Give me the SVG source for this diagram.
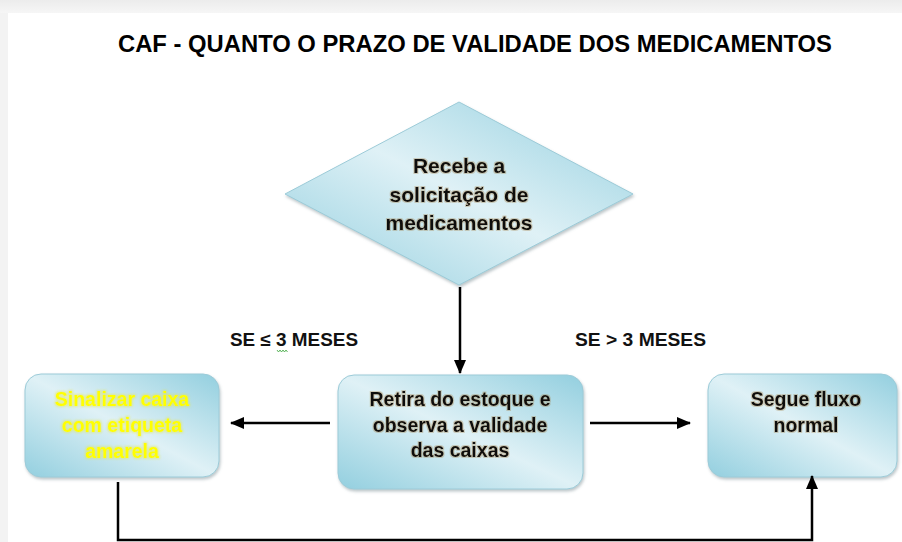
<svg xmlns="http://www.w3.org/2000/svg" width="902" height="542" viewBox="0 0 902 542">
<defs>
<linearGradient id="topbg" x1="0" y1="0" x2="0" y2="1">
<stop offset="0" stop-color="#ececec"/><stop offset="1" stop-color="#f6f6f6"/>
</linearGradient>
<linearGradient id="fill" x1="1" y1="0" x2="0" y2="1">
<stop offset="0" stop-color="#93cfdf"/>
<stop offset="0.5" stop-color="#dff1f6"/>
<stop offset="1" stop-color="#93cfdf"/>
</linearGradient>
<filter id="sh" x="-10%" y="-10%" width="125%" height="130%">
<feGaussianBlur in="SourceAlpha" stdDeviation="1.5"/>
<feOffset dx="1" dy="2" result="b"/>
<feFlood flood-color="#6a7f86" flood-opacity="0.45"/>
<feComposite in2="b" operator="in"/>
<feMerge><feMergeNode/><feMergeNode in="SourceGraphic"/></feMerge>
</filter>
<filter id="glow" x="-5%" y="-20%" width="110%" height="140%">
<feMorphology in="SourceAlpha" operator="dilate" radius="0.5" result="d"/>
<feGaussianBlur in="d" stdDeviation="0.7" result="db"/>
<feFlood flood-color="#9a7030" flood-opacity="0.3"/>
<feComposite in2="db" operator="in"/>
<feMerge><feMergeNode/><feMergeNode in="SourceGraphic"/></feMerge>
</filter>
<filter id="yglow" x="-5%" y="-20%" width="110%" height="140%">
<feMorphology in="SourceAlpha" operator="dilate" radius="0.5" result="d"/>
<feGaussianBlur in="d" stdDeviation="0.8" result="db"/>
<feFlood flood-color="#e8e840" flood-opacity="0.5"/>
<feComposite in2="db" operator="in"/>
<feMerge><feMergeNode/><feMergeNode in="SourceGraphic"/></feMerge>
</filter>
<marker id="ah" markerUnits="userSpaceOnUse" markerWidth="14" markerHeight="12" viewBox="0 0 14 12" refX="13" refY="6" orient="auto">
<path d="M0,0 L14,6 L0,12 Z" fill="#000"/>
</marker>
<style>
.box{fill:url(#fill);stroke:#9ccbd8;stroke-width:1;filter:url(#sh)}
.t{font-family:"Liberation Sans",Arial,sans-serif;font-weight:bold;text-anchor:middle;filter:url(#glow)}
.bt{font-size:19.5px;fill:#111}
.yt{font-size:19.5px;fill:#ffff00;filter:url(#yglow)}
.lab{font-family:"Liberation Sans",Arial,sans-serif;font-weight:bold;font-size:18px;fill:#111}
.c{fill:none;stroke:#000;stroke-width:2.5}
</style>
</defs>
<rect x="0" y="0" width="902" height="542" fill="#f3f3f3"/>
<rect x="0" y="0" width="902" height="13" fill="url(#topbg)"/>
<rect x="8" y="13" width="894" height="529" fill="#ffffff"/>
<text x="475" y="52" font-family="'Liberation Sans',Arial,sans-serif" font-weight="bold" font-size="23.5" fill="#000" text-anchor="middle" textLength="714" lengthAdjust="spacingAndGlyphs">CAF - QUANTO O PRAZO DE VALIDADE DOS MEDICAMENTOS</text>
<g id="n-recebe">
<polygon class="box" points="459,102 633,194 459,285 285,194"/>
<text class="t" font-size="21" fill="#111"><tspan x="459" y="173">Recebe a</tspan><tspan x="459" y="202">solicitação de</tspan><tspan x="459" y="230">medicamentos</tspan></text>
</g>
<g id="n-retira">
<rect class="box" x="338" y="375" width="245" height="114" rx="16"/>
<text class="t bt"><tspan x="460" y="406">Retira do estoque e</tspan><tspan x="460" y="432">observa a validade</tspan><tspan x="460" y="457">das caixas</tspan></text>
</g>
<g id="n-sinalizar">
<rect class="box" x="25" y="374" width="194" height="103" rx="16"/>
<text class="t yt"><tspan x="122" y="406">Sinalizar caixa</tspan><tspan x="122" y="432">com etiqueta</tspan><tspan x="122" y="458">amarela</tspan></text>
</g>
<g id="n-segue">
<rect class="box" x="708" y="374" width="189" height="103" rx="16"/>
<text class="t bt"><tspan x="806" y="406">Segue fluxo</tspan><tspan x="806" y="432">normal</tspan></text>
</g>
<g id="labels">
<text class="lab" x="230" y="346" textLength="128" lengthAdjust="spacingAndGlyphs">SE ≤ 3 MESES</text>
<path d="M277,350 l1.5,2 l1.5,-2 l1.5,2 l1.5,-2 l1.5,2 l1.5,-2 l1.5,2" fill="none" stroke="#3aa63a" stroke-width="0.8"/>
<text class="lab" x="575" y="346" textLength="131" lengthAdjust="spacingAndGlyphs">SE &gt; 3 MESES</text>
</g>
<g id="connectors">
<line class="c" x1="460" y1="287" x2="460" y2="373" marker-end="url(#ah)"/>
<line class="c" x1="330" y1="423" x2="231" y2="423" marker-end="url(#ah)"/>
<line class="c" x1="590" y1="423" x2="690" y2="423" marker-end="url(#ah)"/>
<polyline class="c" points="118,482 118,540 812,540 812,476" marker-end="url(#ah)"/>
</g>
</svg>
